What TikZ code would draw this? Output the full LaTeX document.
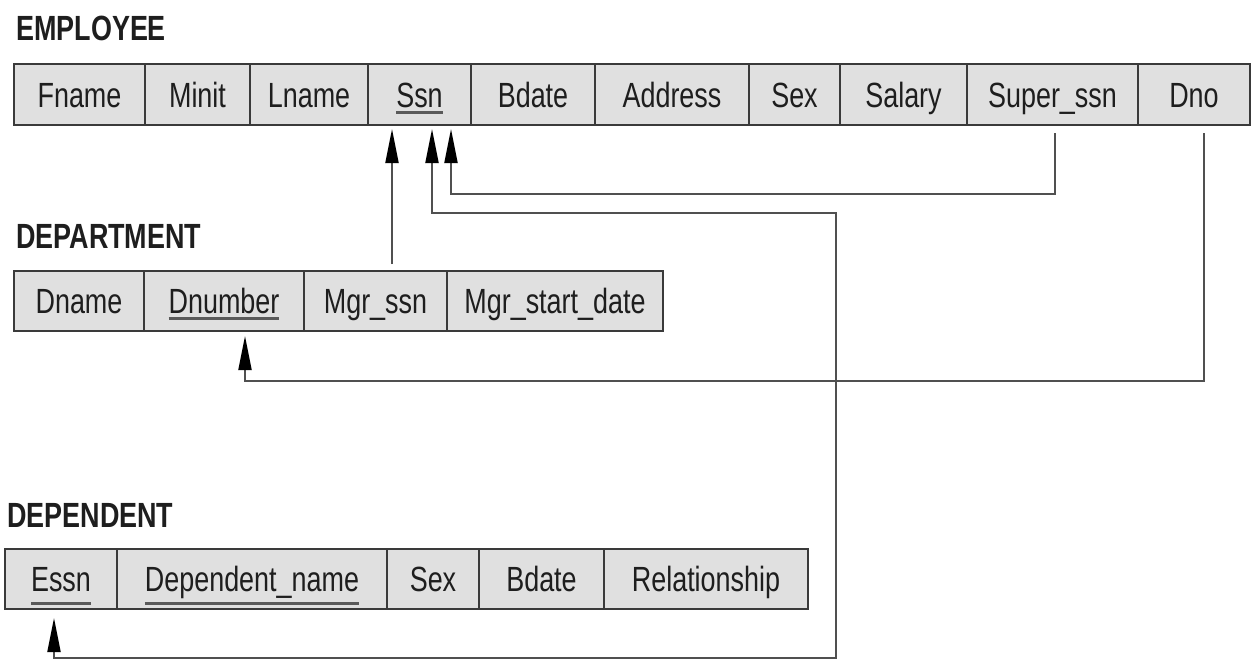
\documentclass[tikz,border=0pt]{standalone}
\usepackage{fontspec}
\setmainfont[FakeStretch=0.77]{Liberation Sans}
\usetikzlibrary{arrows.meta}
\definecolor{cellc}{HTML}{E0E0E0}
\definecolor{tblc}{HTML}{3A3A3A}
\definecolor{txtc}{HTML}{1E1E1E}
\definecolor{connc}{HTML}{505050}
\definecolor{ulc}{HTML}{5A5A5A}
\newcommand\cellfont{\fontsize{35}{42}\selectfont}
\newcommand\titlefont{\fontsize{35}{42}\selectfont\bfseries}
\newcommand\ulbox[2]{\setbox0\hbox{#2}\rlap{\color{ulc}\rule[-#1]{\wd0}{3pt}}\box0}
\tikzset{
  cell/.style={draw=tblc, line width=2pt, fill=cellc, inner sep=0pt,
    text height=25pt, text depth=0pt, text=txtc, font=\cellfont},
  tabletitle/.style={anchor=base west, inner sep=0pt, text=txtc, font=\titlefont},
  conn/.style={draw=connc, line width=2pt},
  tipend/.tip={Triangle[length=34pt, width=13pt, color=black]}
}
\begin{document}
\begin{tikzpicture}[x=1pt, y=-1pt]
\useasboundingbox (0,0) rectangle (1254,659);

% titles
\node[tabletitle] (tEmp) at (16,40) {EMPLOYEE};
\node[tabletitle] (tDept) at (16,248) {DEPARTMENT};
\node[tabletitle] (tDep) at (7,527) {DEPENDENT};

% EMPLOYEE  y 64--125
\node[cell, minimum width=131pt, minimum height=61pt] (fname) at (79.5,94.5) {Fname};
\node[cell, minimum width=105pt, minimum height=61pt] (minit) at (197.5,94.5) {Minit};
\node[cell, minimum width=118pt, minimum height=61pt] (lname) at (309,94.5) {Lname};
\node[cell, minimum width=103pt, minimum height=61pt] (ssn) at (419.5,94.5) {\ulbox{6.5pt}{Ssn}};
\node[cell, minimum width=124pt, minimum height=61pt] (bdate) at (533,94.5) {Bdate};
\node[cell, minimum width=154pt, minimum height=61pt] (address) at (672,94.5) {Address};
\node[cell, minimum width=91pt, minimum height=61pt] (sex) at (794.5,94.5) {Sex};
\node[cell, minimum width=127pt, minimum height=61pt] (salary) at (903.5,94.5) {Salary};
\node[cell, minimum width=171pt, minimum height=61pt] (supssn) at (1052.5,94.5) {Super\_ssn};
\node[cell, minimum width=112pt, minimum height=61pt] (dno) at (1194,94.5) {Dno};

% DEPARTMENT  y 271--331
\node[cell, minimum width=130pt, minimum height=60pt] (dname) at (79,301) {Dname};
\node[cell, minimum width=160pt, minimum height=60pt] (dnumber) at (224,301) {\ulbox{6.5pt}{Dnumber}};
\node[cell, minimum width=143pt, minimum height=60pt] (mgrssn) at (375.5,301) {Mgr\_ssn};
\node[cell, minimum width=216pt, minimum height=60pt] (mgrdate) at (555,301) {Mgr\_start\_date};

% DEPENDENT  y 549--609
\node[cell, minimum width=112pt, minimum height=60pt] (essn) at (61,579) {\ulbox{13.5pt}{Essn}};
\node[cell, minimum width=270pt, minimum height=60pt] (depname) at (252,579) {\ulbox{13.5pt}{Dependent\_name}};
\node[cell, minimum width=92pt, minimum height=60pt] (dsex) at (433,579) {Sex};
\node[cell, minimum width=125pt, minimum height=60pt] (dbdate) at (541.5,579) {Bdate};
\node[cell, minimum width=204pt, minimum height=60pt] (relation) at (706,579) {Relationship};

% connectors
% Super_ssn -> Ssn
\draw[conn, -{tipend}] ([xshift=2.5pt, yshift=-7pt]supssn.south) -- ++(0,61)
  -| ([xshift=31.5pt, yshift=-3pt]ssn.south);
% Mgr_ssn -> Ssn
\draw[conn, -{tipend}] ([xshift=16.5pt, yshift=6pt]mgrssn.north)
  -- ([xshift=-27.5pt, yshift=-3pt]ssn.south);
% Dno -> Dnumber
\draw[conn, -{tipend}] ([xshift=10pt, yshift=-7pt]dno.south) -- ++(0,248)
  -| ([xshift=21pt, yshift=-4pt]dnumber.south);
% Ssn <-> Essn
\draw[conn, {tipend}-{tipend}] ([xshift=12.5pt, yshift=-3pt]ssn.south) -- ++(0,84)
  -- ++(404,0) -- ++(0,445) -| ([xshift=-7pt, yshift=-8pt]essn.south);
\end{tikzpicture}
\end{document}
